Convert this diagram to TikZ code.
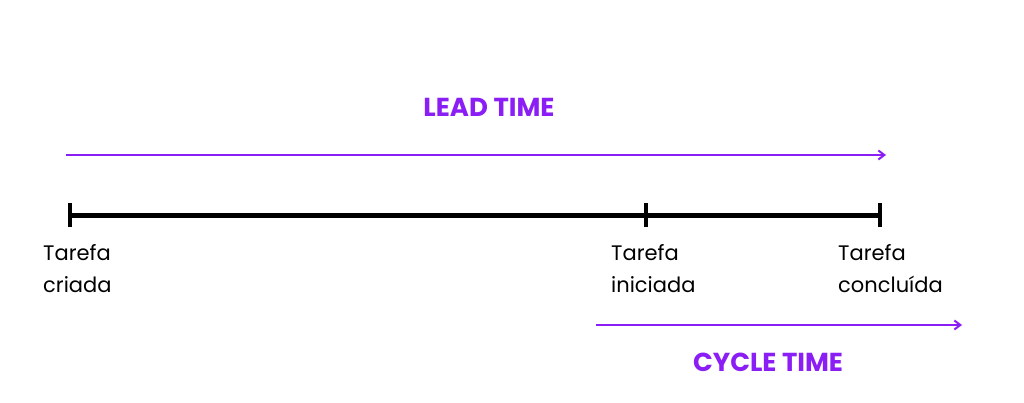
\documentclass[tikz,border=0pt]{standalone}
\usepackage{fontspec}
\setmainfont{Poppins}
\usetikzlibrary{arrows.meta,positioning}
\definecolor{leadpurple}{HTML}{8A1EF5}
\begin{document}
\begin{tikzpicture}[x=1pt,y=-1pt,
    timeline/.style={line width=5pt,black},
    tick/.style={line width=4pt,black},
    span/.style={line width=2pt,leadpurple,-{Straight Barb[length=6pt,width=9pt]}},
    spanlabel/.style={text=leadpurple,font=\fontsize{26}{30}\selectfont\bfseries},
    event/.style={align=left,anchor=north west,inner sep=0pt,font=\fontsize{21}{32}\selectfont}]
  \useasboundingbox (0,0) rectangle (1024,402);
  % timeline
  \coordinate (start) at (70,215);
  \coordinate (begin) at (646,215);
  \coordinate (done) at (880,215);
  \draw[timeline] (start) -- (done);
  \foreach \p in {start,begin,done}
    \draw[tick] ([yshift=-12pt]\p) -- ([yshift=12pt]\p);
  % events
  \node[event] (criada) at (43,244) {Tarefa\\criada};
  \node[event] (iniciada) at (611,244) {Tarefa\\iniciada};
  \node[event] (concluida) at (838,244) {Tarefa\\concluída};
  % spans
  \coordinate (leadA) at (66,155);
  \coordinate (leadB) at (886,155);
  \draw[span] (leadA) -- (leadB);
  \node[spanlabel] (lead) at (489,107) {LEAD TIME};
  \coordinate (cycleA) at (596,325);
  \coordinate (cycleB) at (962,325);
  \draw[span] (cycleA) -- (cycleB);
  \node[spanlabel] (cycle) at (768,362) {CYCLE TIME};
\end{tikzpicture}
\end{document}
